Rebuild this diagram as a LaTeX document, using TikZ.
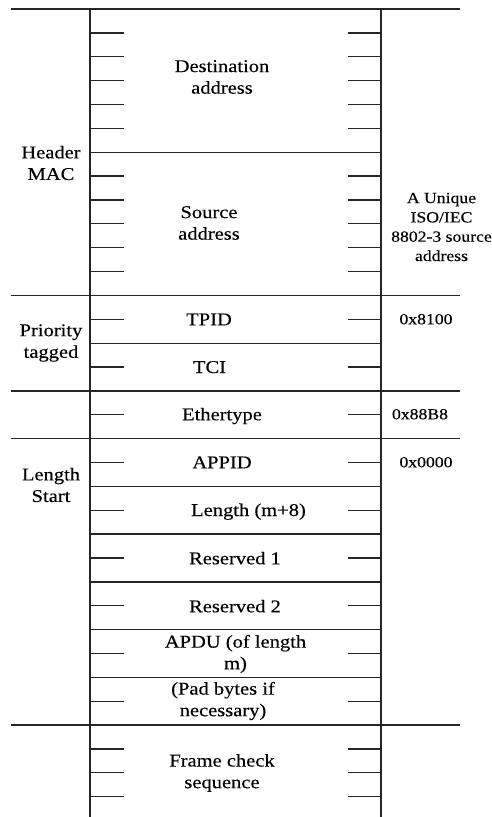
\documentclass[tikz,border=0pt]{standalone}
\usepackage{fontspec}
\setmainfont[FakeStretch=1.14,FakeBold=0.3]{Liberation Serif}
\tikzset{
  rule/.style={line width=1.3pt, draw=black!85},
  lbl/.style={font=\fontsize{18}{21.6}\selectfont, align=center, inner sep=0pt, text=black},
  val/.style={font=\fontsize{15.5}{19.3}\selectfont, align=center, inner sep=0pt, text=black},
  one/.style={anchor=base},
}
\begin{document}
\begin{tikzpicture}[x=1pt,y=-1pt]
\useasboundingbox (0,0) rectangle (492,817);
\def\u{23.87}
% vertical rules
\draw[rule] (90,9) -- (90,817);
\draw[rule] (381,9) -- (381,817);
% full-width rules
\foreach \k in {0,12,16,18,30}
  \draw[rule] (11,{9+\k*\u}) -- (460,{9+\k*\u});
% inner rules
\foreach \k in {6,14,20,22,24,26,28}
  \draw[rule] (90,{9+\k*\u}) -- (381,{9+\k*\u});
% ticks
\foreach \k in {1,2,3,4,5,7,8,9,10,11,13,15,17,19,21,23,25,27,29,31,32,33}{
  \draw[rule] (90,{9+\k*\u}) -- (124,{9+\k*\u});
  \draw[rule] (348,{9+\k*\u}) -- (381,{9+\k*\u});
}
% texts
\node[lbl] (dst) at (222,77) {Destination\\address};
\node[lbl] (src) at (209,223) {Source\\address};
\node[lbl] (hdr) at (51,163) {Header\\MAC};
\node[val] (uniq) at (441.5,227) {A Unique\\ISO/IEC\\8802-3 source\\address};
\node[lbl] (prio) at (51,343) {Priority\\tagged};
\node[lbl,one] (tpid) at (209,325.3) {TPID};
\node[lbl,one] (tci) at (209.5,373) {TCI};
\node[val,one] (v8100) at (426,324.3) {0x8100};
\node[lbl,one] (eth) at (222,420.3) {Ethertype};
\node[val,one] (v88b8) at (420,419.3) {0x88B8};
\node[lbl,one] (appid) at (222,468.3) {APPID};
\node[val,one] (v0000) at (426,467.3) {0x0000};
\node[lbl] (lstart) at (51,485) {Length\\Start};
\node[lbl,one] (len) at (248.5,516) {Length (m+8)};
\node[lbl,one] (res1) at (235,564.3) {Reserved 1};
\node[lbl,one] (res2) at (235,612.3) {Reserved 2};
\node[lbl] (apdu) at (235.5,654) {APDU (of length\\m)};
\node[lbl] (pad) at (223,701) {(Pad bytes if\\necessary)};
\node[lbl] (fcs) at (222,773) {Frame check\\sequence};
\end{tikzpicture}
\end{document}
